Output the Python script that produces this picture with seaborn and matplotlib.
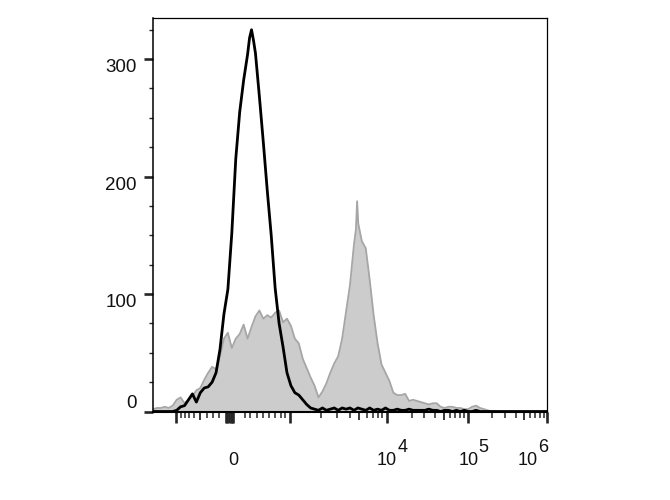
"""
Flow cytometry histogram: stained sample (grey fill) vs control (black line)
- biexponential-like x axis drawn in display channels 0..1000
"""

import matplotlib
matplotlib.use("Agg")
import matplotlib.pyplot as plt
import matplotlib.transforms as mtransforms
import seaborn as sns

# ── data (display channel, event count) ──────────────────────────────────────
gray_ch = [0, 10, 20, 30, 40, 50, 60, 70, 80, 90,
           100, 110, 120, 130, 140, 150, 160, 170, 180, 190,
           200, 210, 220, 230, 240, 250, 260, 270, 280, 290,
           300, 310, 320, 330, 340, 350, 360, 370, 380, 390,
           400, 410, 420, 430, 440, 450, 460, 470, 480, 490,
           500, 510, 515, 518, 521,
           530, 540, 550, 560, 570, 580, 590, 600, 610, 620,
           630, 640, 650, 660, 670, 680, 690, 700, 710, 720,
           730, 740, 750, 760, 770, 780, 790, 800, 810, 820,
           830, 840, 850, 860, 870]
gray_count = [2, 3, 3, 4, 3, 5, 10, 12, 7, 10,
              13, 18, 20, 27, 33, 38, 36, 47, 62, 67,
              54, 62, 66, 74, 62, 72, 81, 86, 79, 82,
              80, 84, 86, 76, 79, 73, 62, 58, 45, 37,
              29, 22, 12, 17, 24, 33, 41, 47, 62, 85,
              108, 142, 155, 179, 160,
              145, 139, 112, 82, 58, 40, 33, 26, 16, 14,
              14, 15, 9, 10, 9, 8, 7, 6, 7, 7,
              4, 3, 4, 4, 3, 3, 2, 2, 4, 5,
              3, 2, 1, 0, 0]

black_ch = [0, 10, 20, 30, 40, 50, 60, 70, 80, 90,
            100, 110, 120, 130, 140, 150, 160, 170, 180, 190,
            200, 210, 220, 230, 240, 245, 250, 255,
            260, 270, 280, 290, 300, 310, 320, 330, 340, 350,
            360, 370, 380, 390, 400, 410, 420, 430, 440, 450,
            460, 470, 480, 490, 500, 510, 520, 530, 540, 550,
            560, 570, 580, 590, 600, 610, 620, 630, 640, 650,
            660, 670, 680, 690, 700, 710, 720, 730, 740, 750,
            760, 770, 780, 790, 800, 810, 820, 830, 840, 850,
            860, 870, 880, 890, 900, 910, 920, 930, 940, 950,
            960, 970, 980, 990, 1000]
black_count = [0, 0, 0, 0, 0, 0, 1, 4, 5, 10,
               15, 8, 16, 20, 21, 25, 33, 53, 83, 104,
               152, 215, 255, 282, 304, 318, 325, 316,
               305, 268, 229, 188, 150, 105, 75, 55, 33, 22,
               16, 14, 10, 6, 3, 2, 1, 3, 1, 2,
               3, 1, 3, 2, 3, 1, 3, 2, 1, 3,
               1, 2, 1, 3, 1, 1, 2, 1, 1, 2,
               1, 1, 1, 1, 2, 1, 1, 0, 1, 1,
               0, 1, 0, 1, 0, 0, 1, 0, 0, 0,
               0, 0, 0, 0, 0, 0, 0, 0, 0, 0,
               0, 0, 0, 0, 0]

# ── axis ticks (display channels) ────────────────────────────────────────────
x_major = [58, 185, 189, 193, 197, 200, 204, 348, 594, 800, 1000]
x_medium = [119, 523, 739, 942]
x_minor = [71, 81, 91, 104, 137, 152, 168,
           234, 246, 264, 279, 294, 310, 325, 335,
           426, 467, 500, 543, 558, 571, 581,
           657, 688, 716, 754, 767, 779, 789,
           860, 893, 921, 957, 970, 982, 992]
x_label_pos = [203, 594, 800, 950]
x_label_base = ["0", "10", "10", "10"]
x_label_exp = ["", "4", "5", "6"]

y_major = [0, 100, 200, 300]
y_minor = [25, 50, 75, 125, 150, 175, 225, 250, 275, 325]

sns.set_style("ticks")
plt.rcParams["font.family"] = ["Liberation Sans", "DejaVu Sans"]

fig = plt.figure(figsize=(6.7, 5), dpi=100, facecolor="white")
ax = fig.add_axes([0.2284, 0.177, 0.588, 0.787])

# ── histograms ───────────────────────────────────────────────────────────────
ax.fill_between(gray_ch, 0, gray_count, color="#cccccc", linewidth=0, zorder=1)
sns.lineplot(x=gray_ch, y=gray_count, ax=ax, color="#a6a6a6", linewidth=1.3,
             zorder=2, estimator=None, sort=False)
sns.lineplot(x=black_ch, y=black_count, ax=ax, color="black", linewidth=2.0,
             zorder=3, estimator=None, sort=False)

ax.set_xlim(0, 1000)
ax.set_ylim(0, 335)
ax.set_xlabel("")
ax.set_ylabel("")

for side in ["top", "right"]:
    ax.spines[side].set_linewidth(0.9)
ax.spines["left"].set_linewidth(1.1)
ax.spines["bottom"].set_linewidth(1.5)
for sp in ax.spines.values():
    sp.set_color("black")

# x ticks: major / minor, plus a medium set on a secondary axis
ax.set_xticks(x_major)
ax.set_xticks(x_minor, minor=True)
ax.tick_params(axis="x", which="major", length=8, width=1.9, labelbottom=False)
ax.tick_params(axis="x", which="minor", length=4, width=1.1)
sec = ax.secondary_xaxis("bottom")
sec.set_xticks(x_medium)
sec.tick_params(axis="x", length=6, width=1.3, labelbottom=False)
sec.spines["bottom"].set_visible(False)

ax.set_yticks(y_major)
ax.set_yticks(y_minor, minor=True)
ax.tick_params(axis="y", which="major", length=6.5, width=1.9, labelleft=False)
ax.tick_params(axis="y", which="minor", length=3, width=1.0)

# y labels: top-aligned to tick, except 0 which sits above it
ytrans = ax.get_yaxis_transform()
for v in y_major:
    ax.text(-0.041, v, str(v), transform=ytrans, ha="right",
            va="bottom" if v == 0 else "top", fontsize=13.5,
            color="#111111")

# x labels with full-size raised exponent
xtrans = ax.get_xaxis_transform()
for pos, base, ex in zip(x_label_pos, x_label_base, x_label_exp):
    ax.text(pos, -0.136, base, transform=xtrans, ha="center", va="baseline",
            fontsize=13, color="#111111")
    if ex:
        off = mtransforms.offset_copy(xtrans, fig=fig, x=7.5, y=9.5, units="points")
        ax.text(pos, -0.136, ex, transform=off, ha="left", va="baseline",
                fontsize=13, color="#111111")

fig.savefig("out.png", dpi=100, facecolor="white")
